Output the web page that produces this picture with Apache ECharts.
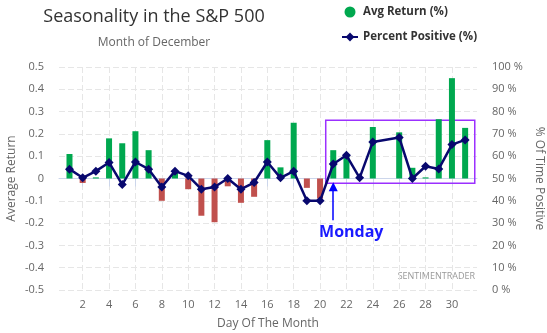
<!DOCTYPE html>
<html>
<head>
<meta charset="utf-8">
<script src="https://cdn.jsdelivr.net/npm/echarts@6/dist/echarts.min.js"></script>
<style>
html,body{margin:0;padding:0;background:#fff;}
#chart{width:547px;height:333px;}
</style>
</head>
<body>
<div id="chart"></div>
<script>
// ---- data ----
const days = [1,2,3,4,5,6,7,8,9,10,11,12,13,14,15,16,17,18,19,20,21,22,23,24,25,26,27,28,29,30,31];
const avgReturn = [0.11,-0.02,0.005,0.18,0.158,0.212,0.127,-0.10,0.03,-0.048,-0.167,-0.196,-0.035,-0.109,-0.082,0.172,0.05,0.25,-0.042,-0.09,0.127,0.107,0,0.231,null,0.207,0.048,0.005,0.266,0.45,0.227];
const pctPositive = [54.2,50.3,53.3,57.2,47.3,57.4,54.2,46.2,53.3,51.2,45.2,46.2,50,45.2,48.2,57.4,50.3,53.3,40,40,56.5,60.4,50.3,66.4,null,68.4,50,55.5,54.3,65.2,67.3];
const xTickLabels = [2,4,6,8,10,12,14,16,18,20,22,24,26,28,30];
const highlightDays = [20.43, 31.73];
const highlightReturn = [-0.021, 0.261];
const arrowDay = 21;
const arrowPct = [31.3, 46.3];

const chart = echarts.init(document.getElementById('chart'), null, {renderer:'canvas'});
const FONT = '"Open Sans", sans-serif';
const GREEN = '#00a84f', RED = '#c0504d', NAVY = '#08086e';
const gridDash = {color:'#e6e6e6', type:[6,3], width:1};

const option = {
  animation:false,
  backgroundColor:'#fff',
  textStyle:{fontFamily:FONT},
  title:[
    {text:'Seasonality in the S&P 500', left:149, top:3, textAlign:'center',
     textStyle:{fontFamily:FONT, fontSize:18, fontWeight:'normal', color:'#333'}},
    {text:'Month of December', left:149, top:32, textAlign:'center',
     textStyle:{fontFamily:FONT, fontSize:12, fontWeight:'normal', color:'#666'}}
  ],
  legend:{
    orient:'vertical', left:341, top:6, padding:0, itemWidth:16, itemHeight:11, itemGap:13,
    textStyle:{fontFamily:FONT, fontSize:11.5, fontWeight:'bold', color:'#333'},
    data:[{name:'Avg Return (%)', icon:'circle', itemStyle:{color:GREEN}}, {name:'Percent Positive (%)'}]
  },
  grid:{left:59, right:70, top:67, bottom:43, containLabel:false, outerBoundsMode:'none'},
  xAxis:{
    type:'value', min:0.205, max:31.9,
    name:'Day Of The Month', nameLocation:'middle', nameGap:28,
    nameTextStyle:{fontFamily:FONT, fontSize:12, color:'#666'},
    axisLine:{show:true, lineStyle:{color:'#ccd6eb'}},
    axisTick:{show:true, length:8, lineStyle:{color:'#ccd6eb'}, customValues:xTickLabels},
    axisLabel:{fontFamily:FONT, fontSize:11, color:'#666', margin:9, customValues:xTickLabels},
    splitLine:{show:true, lineStyle:gridDash}
  },
  yAxis:[
    {type:'value', min:-0.5, max:0.5, interval:0.1, position:'left',
     name:'Average Return', nameLocation:'middle', nameGap:41, nameMoveOverlap:false,
     nameTextStyle:{fontFamily:FONT, fontSize:12, color:'#666'},
     axisLine:{show:false}, axisTick:{show:false},
     axisLabel:{fontFamily:FONT, fontSize:11, color:'#666', margin:15,
       formatter:v=>String(Math.round(v*10)/10)},
     splitLine:{show:true, lineStyle:gridDash}},
    {type:'value', min:0, max:100, interval:10, position:'right',
     name:'% Of Time Positive', nameLocation:'middle', nameGap:52, nameRotate:-90,
     nameTextStyle:{fontFamily:FONT, fontSize:12, color:'#666'},
     axisLine:{show:false}, axisTick:{show:false},
     axisLabel:{fontFamily:FONT, fontSize:11, color:'#666', margin:15, formatter:'{value} %'},
     splitLine:{show:false}}
  ],
  graphic:[
    {type:'text', right:72, top:272, style:{text:'SENTIMENTRADER', fontFamily:FONT, fontSize:9, fill:'#999'}}
  ],
  series:[
    {name:'Avg Return (%)', type:'bar', xAxisIndex:0, yAxisIndex:0, barWidth:6, color:GREEN,
     data:days.map((d,i)=>[d, avgReturn[i]]),
     itemStyle:{color:p=> (p.value[1] < 0 ? RED : GREEN)},
     markArea:{silent:true,
       itemStyle:{color:'rgba(0,0,0,0)', borderColor:'#9b30ff', borderWidth:1.5},
       data:[[{coord:[highlightDays[0], highlightReturn[1]]}, {coord:[highlightDays[1], highlightReturn[0]]}]]}
    },
    {name:'Percent Positive (%)', type:'line', xAxisIndex:0, yAxisIndex:1,
     data:days.map((d,i)=>[d, pctPositive[i]]), connectNulls:true,
     symbol:'diamond', symbolSize:9, showSymbol:true, color:NAVY,
     lineStyle:{color:NAVY, width:2.5}, itemStyle:{color:NAVY},
     z:3,
     markLine:{silent:true, symbol:['none','triangle'], symbolSize:[9,9],
       lineStyle:{color:'#0000ff', width:1.5, type:'solid'},
       label:{show:false},
       data:[[{coord:[arrowDay, arrowPct[0]]}, {coord:[arrowDay, arrowPct[1]]}]]},
     markPoint:{silent:true, symbol:'circle', symbolSize:0,
       label:{show:true, formatter:'Monday', color:'#1a1aff', fontFamily:FONT, fontSize:16,
         fontWeight:'bold', offset:[18, 12]},
       data:[{coord:[arrowDay, arrowPct[0]]}]}
    }
  ]
};
chart.setOption(option);
</script>
</body>
</html>
